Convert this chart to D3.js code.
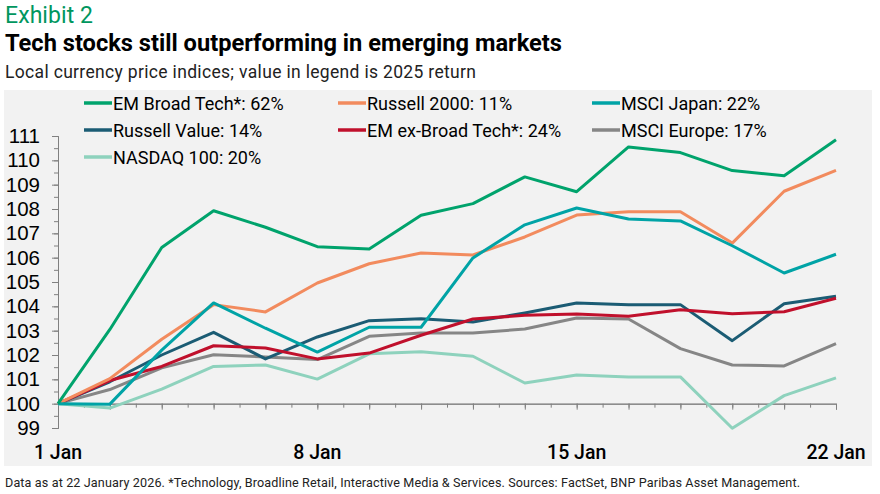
<!DOCTYPE html>
<html>
<head>
<meta charset="utf-8">
<script src="https://cdn.jsdelivr.net/npm/d3@7"></script>
<style>
  body { margin: 0; background: #fff; }
  svg { display: block; font-family: Roboto, "Open Sans", sans-serif; }
</style>
</head>
<body>
<svg id="mainsvg" width="880" height="494"></svg>
<script>
// trading days shown on the x axis (index 0..15)
const days = ["1 Jan","2 Jan","5 Jan","6 Jan","7 Jan","8 Jan","9 Jan","12 Jan","13 Jan","14 Jan","15 Jan","16 Jan","19 Jan","20 Jan","21 Jan","22 Jan"]
const dayLabels = ["1 Jan", "8 Jan", "15 Jan", "22 Jan"]
const yTicks = [99,100,101,102,103,104,105,106,107,108,109,110,111]

const seriesNames = ["EM Broad Tech*: 62%", "Russell 2000: 11%", "MSCI Japan: 22%",
  "Russell Value: 14%", "EM ex-Broad Tech*: 24%", "MSCI Europe: 17%", "NASDAQ 100: 20%"]
const seriesColors = ["#00a36c", "#f28b5e", "#00a3a6", "#1b5c74", "#c0102c", "#868686", "#8ed2bd"]

const emBroadTech   = [100, 103.05, 106.42, 107.93, 107.25, 106.45, 106.36, 107.74, 108.22, 109.32, 108.71, 110.55, 110.32, 109.58, 109.37, 110.85]
const russell2000   = [100, 101.03, 102.65, 104.07, 103.77, 104.96, 105.75, 106.19, 106.11, 106.85, 107.75, 107.89, 107.89, 106.60, 108.73, 109.59]
const msciJapan     = [100, 99.98, 102.2, 104.14, 103.10, 102.12, 103.14, 103.14, 105.99, 107.35, 108.04, 107.59, 107.51, 106.49, 105.37, 106.14]
const russellValue  = [100, 100.9, 102.0, 102.93, 101.84, 102.74, 103.41, 103.49, 103.36, 103.73, 104.14, 104.07, 104.07, 102.59, 104.11, 104.41]
const emExTech      = [100, 100.95, 101.53, 102.38, 102.29, 101.84, 102.08, 102.81, 103.48, 103.63, 103.69, 103.59, 103.86, 103.70, 103.78, 104.33]
const msciEurope    = [100, 100.58, 101.47, 102.01, 101.92, 101.81, 102.77, 102.90, 102.90, 103.07, 103.52, 103.48, 102.26, 101.59, 101.55, 102.47]
const nasdaq100     = [100, 99.82, 100.60, 101.53, 101.59, 101.01, 102.05, 102.13, 101.95, 100.85, 101.18, 101.10, 101.10, 98.99, 100.33, 101.06]

const seriesValues = [emBroadTech, russell2000, msciJapan, russellValue, emExTech, msciEurope, nasdaq100]

const svg = d3.select('#mainsvg')

// titles (textLength keeps widths close to the original typeface)
svg.append("text").text("Exhibit 2")
  .attr("x", 5).attr("y", 23).attr("font-size", 23).attr("fill", "#00965e")
  .attr("textLength", 88).attr("lengthAdjust", "spacing")
svg.append("text").text("Tech stocks still outperforming in emerging markets")
  .attr("x", 5).attr("y", 51).attr("font-size", 23).attr("font-weight", "bold").attr("fill", "#000")
  .attr("textLength", 557).attr("lengthAdjust", "spacingAndGlyphs")
svg.append("text").text("Local currency price indices; value in legend is 2025 return")
  .attr("x", 5).attr("y", 78).attr("font-size", 17.5).attr("fill", "#222")
  .attr("textLength", 471).attr("lengthAdjust", "spacing")

// grey panel
svg.append("rect").attr("x", 4).attr("y", 90).attr("width", 868).attr("height", 376).attr("fill", "#f2f2f2")

// scales
const xScale = d3.scaleLinear().domain([0, days.length - 1]).range([58, 836])
const yScale = d3.scaleLinear().domain([99, 111]).range([428, 136])

const g = svg.append("g")

// y axis with half-point minor ticks
const yMinor = d3.range(99, 111, 0.5)
g.append("g").attr("transform", "translate(58,0)")
  .call(d3.axisLeft(yScale).tickValues(yMinor).tickSize(4).tickFormat(""))
const yAxisG = g.append("g").attr("transform", "translate(58,0)")
  .call(d3.axisLeft(yScale).tickValues(yTicks).tickSize(6).tickPadding(12).tickFormat(d3.format("d")))
yAxisG.selectAll("text").attr("font-size", 20.5).attr("fill", "#000").attr("font-weight", 500)

// x axis sits at 100
const xMinor = d3.range(0, days.length - 1, 0.5)
g.append("g").attr("transform", `translate(0,${yScale(100)})`)
  .call(d3.axisBottom(xScale).tickValues(xMinor).tickSize(4).tickFormat(""))
g.append("g").attr("transform", `translate(0,${yScale(100)})`)
  .call(d3.axisBottom(xScale).tickValues(d3.range(days.length)).tickSize(6).tickFormat(""))
g.selectAll(".domain, .tick line").attr("stroke", "#808080")

// x labels below the chart
g.selectAll(".xlab").data(dayLabels).join("text")
  .attr("class", "xlab")
  .attr("x", d => xScale(days.indexOf(d)))
  .attr("y", 459)
  .attr("text-anchor", "middle")
  .attr("font-size", 19.5).attr("font-weight", 500).attr("fill", "#000")
  .text(d => d)

// lines
const line = d3.line().x((d, i) => xScale(i)).y(d => yScale(d))
const drawOrder = [6, 5, 3, 4, 1, 2, 0]
drawOrder.forEach(k => {
  g.append("path")
    .datum(seriesValues[k])
    .attr("fill", "none")
    .attr("stroke", seriesColors[k])
    .attr("stroke-width", 3)
    .attr("stroke-linejoin", "round")
    .attr("d", line)
})

// legend
const legCols = [84, 338, 592]
const legRows = [103, 130, 157]
seriesNames.forEach((name, i) => {
  const lx = legCols[i % 3], ly = legRows[Math.floor(i / 3)]
  g.append("line").attr("x1", lx).attr("x2", lx + 28).attr("y1", ly).attr("y2", ly)
    .attr("stroke", seriesColors[i]).attr("stroke-width", 3.5)
  g.append("text").text(name).attr("x", lx + 29).attr("y", ly + 6.5)
    .attr("font-size", 18).attr("fill", "#000")
})

// footnote
svg.append("text")
  .text("Data as at 22 January 2026. *Technology, Broadline Retail, Interactive Media & Services. Sources: FactSet, BNP Paribas Asset Management.")
  .attr("x", 5).attr("y", 487).attr("font-size", 12.6).attr("fill", "#222")
  .attr("textLength", 795).attr("lengthAdjust", "spacing")
</script>
</body>
</html>
